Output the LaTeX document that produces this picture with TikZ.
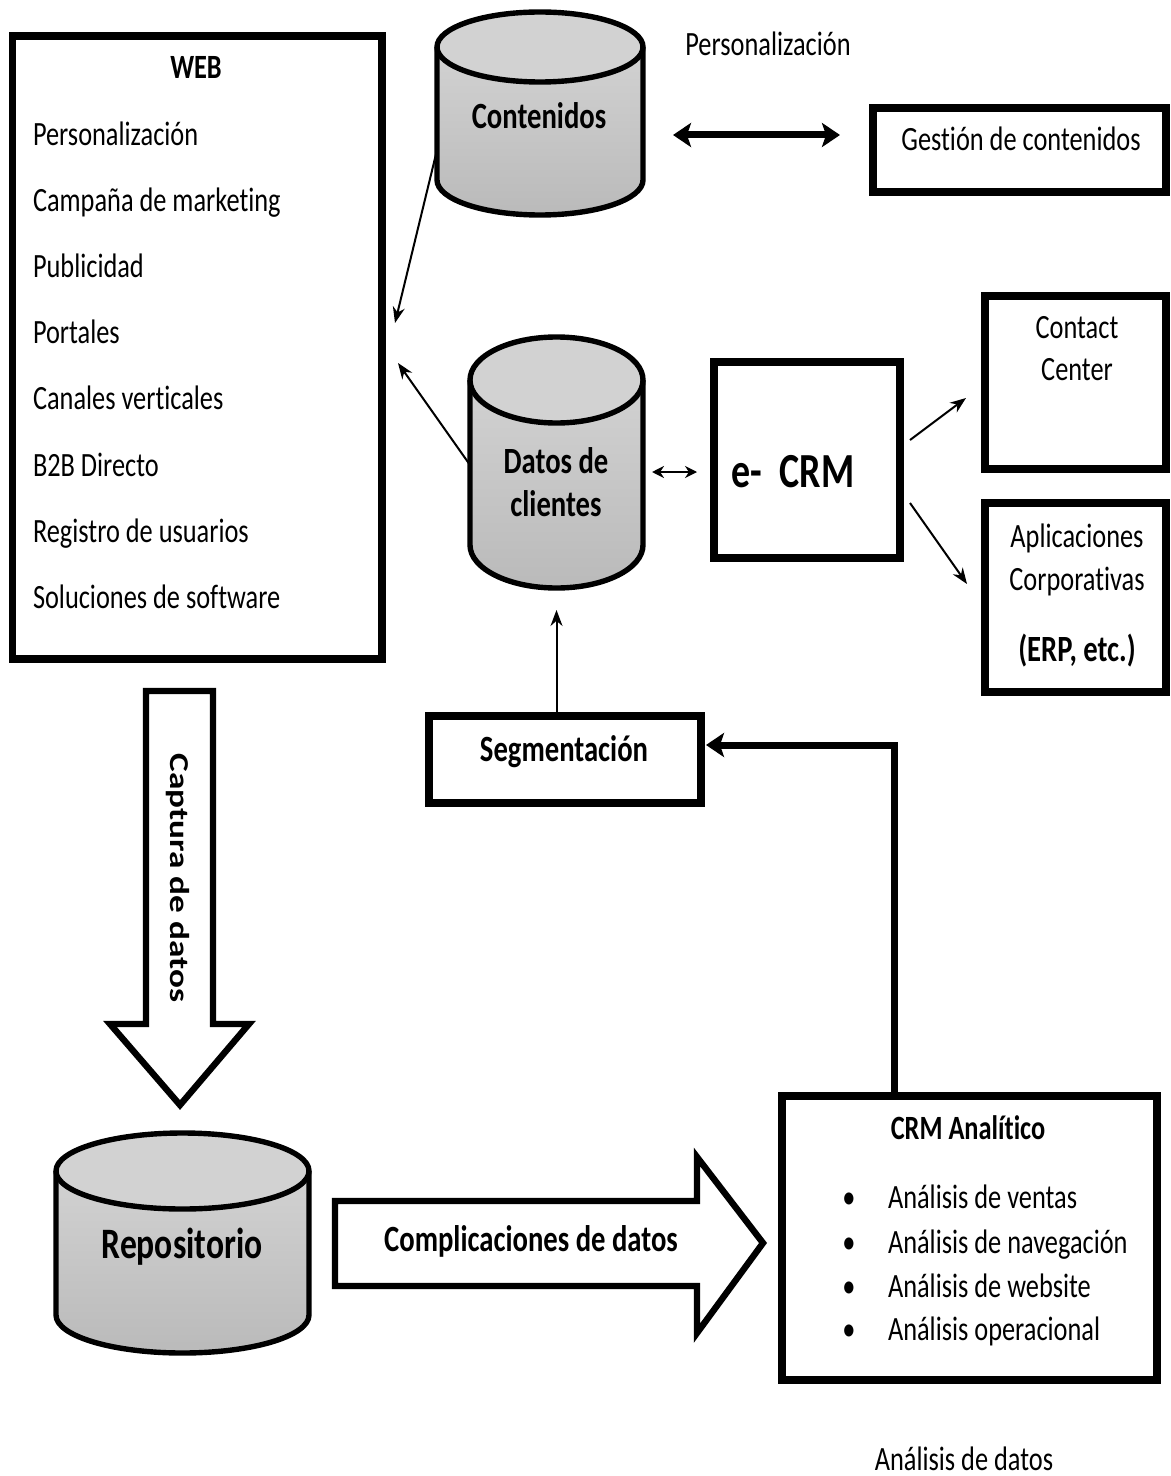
\documentclass[tikz,border=0pt]{standalone}
\usepackage{fontspec}
\setmainfont{Carlito}[FakeStretch=0.775, Ligatures=NoCommon]
\newfontfamily\uprightfam{Carlito}[Ligatures=NoCommon]
\usepackage{graphicx}
\usetikzlibrary{arrows.meta,fit,calc}

\definecolor{drumtop}{RGB}{210,210,210}
\definecolor{drumbot}{RGB}{186,186,186}

\tikzset{
  box/.style={draw, line width=3.6pt, inner sep=0pt, outer sep=0pt},
  hold/.style={inner sep=0pt, outer sep=0pt},
  txt/.style={inner sep=0pt, outer sep=0pt, font=\fontsize{17}{20}\selectfont, text height=10.5pt, text depth=0pt},
  btxt/.style={txt, font=\fontsize{18.5}{22}\selectfont\bfseries, text height=11.5pt},
  bsmall/.style={txt, font=\fontsize{17}{20}\selectfont\bfseries},
  drumline/.style={line width=2.7pt},
  blockarrow/.style={draw, line width=3.2pt, fill=white, line join=miter},
  thinarrow/.style={line width=1pt, -{Stealth[length=8pt,width=6pt]}},
  smallboth/.style={line width=1.3pt, {Stealth[length=6pt,width=6pt]}-{Stealth[length=6pt,width=6pt]}},
  bigboth/.style={line width=3.5pt, {Stealth[length=9pt,width=12pt,inset=2pt]}-{Stealth[length=9pt,width=12pt,inset=2pt]}},
  elbow/.style={line width=3.5pt, -{Stealth[length=9pt,width=12pt,inset=2pt]}}
}

% cylinder: left, top, right, bottom, cap half-height (all in picture units)
\newcommand{\drum}[5]{%
  \pgfmathsetmacro{\drumrx}{(#3-#1)/4}%
  \pgfmathsetmacro{\drumry}{#5/2}%
  \pgfmathsetmacro{\drumcx}{(#1+#3)/2}%
  \path[top color=drumtop, bottom color=drumbot] ({#1},{#2+#5}) -- ({#1},{#4-#5})
     arc[start angle=180, end angle=360, x radius=\drumrx pt, y radius=\drumry pt]
     -- ({#3},{#2+#5}) -- cycle;
  \draw[drumline] ({#1},{#2+#5}) -- ({#1},{#4-#5})
     arc[start angle=180, end angle=360, x radius=\drumrx pt, y radius=\drumry pt]
     -- ({#3},{#2+#5});
  \draw[drumline, fill=drumtop] (\drumcx,{#2+#5}) ellipse[x radius=\drumrx pt, y radius=\drumry pt];
}

\begin{document}
\begin{tikzpicture}[x=0.5pt, y=-0.5pt]
\fill[white] (0,0) rectangle (1171,1476);
\useasboundingbox (0,0) rectangle (1171,1476);

% ---- boxes ----
\node[box, fit={(12.5,36) (382,659)}] (web) {};
\node[box, fit={(873,108) (1166,192)}] (gestion) {};
\node[box, fit={(714,362) (900,558)}] (ecrm) {};
\node[box, fit={(985,296) (1166,469)}] (contact) {};
\node[box, fit={(985,503) (1166,692)}] (aplic) {};
\node[box, fit={(429,716) (701,803)}] (segm) {};
\node[box, fit={(782,1096) (1157,1380)}] (crm) {};

% ---- cylinders ----
\drum{437}{12}{643}{215}{35}
\node[hold, fit={(437,12) (643,215)}] (contenidos) {};
\drum{470}{337}{643}{588}{43}
\node[hold, fit={(470,337) (643,588)}] (datos) {};
\drum{56}{1133}{309}{1353}{38}
\node[hold, fit={(56,1133) (309,1353)}] (repo) {};

% ---- WEB list ----
\node[bsmall] (webtitle) at (196,68) {WEB};
\node[txt, anchor=west] (w1) at (33,135) {Personalización};
\node[txt, anchor=west] (w2) at (33,201) {Campaña de marketing};
\node[txt, anchor=west] (w3) at (33,267) {Publicidad};
\node[txt, anchor=west] (w4) at (33,333) {Portales};
\node[txt, anchor=west] (w5) at (33,399) {Canales verticales};
\node[txt, anchor=west] (w6) at (33,466) {B2B Directo};
\node[txt, anchor=west] (w7) at (33,532) {Registro de usuarios};
\node[txt, anchor=west] (w8) at (33,598) {Soluciones de software};

% ---- labels ----
\node[btxt] (contenidosT) at (539,117) {Contenidos};
\node[txt] (persT) at (768,45) {Personalización};
\node[txt] (gestionT) at (1021,140) {Gestión de contenidos};
\node[btxt] (datosT1) at (556,462) {Datos de};
\node[btxt] (datosT2) at (556,505) {clientes};
\node[txt, font=\fontsize{24.5}{28}\selectfont\bfseries, text height=15.5pt] (ecrmT) at (793,472) {e-\ \ CRM};
\node[txt] (contactT1) at (1077,328) {Contact};
\node[txt] (contactT2) at (1077,370) {Center};
\node[txt] (aplicT1) at (1077,537) {Aplicaciones};
\node[txt] (aplicT2) at (1077,580) {Corporativas};
\node[btxt] (aplicT3) at (1077,650) {(ERP, etc.)};
\node[btxt] (segmT) at (564,750) {Segmentación};
\node[txt, font=\fontsize{21.7}{25}\selectfont\bfseries, text height=13.7pt] (repoT) at (182,1245) {Repositorio};

% ---- CRM analitico ----
\node[bsmall] (crmT) at (968,1129) {CRM Analítico};
\foreach \yy/\tt in {1198/Análisis de ventas, 1243/Análisis de navegación, 1287/Análisis de website, 1330/Análisis operacional}{
  \node[txt] at (849,\yy) {\textbullet};
  \node[txt, anchor=west] at (888,\yy) {\tt};
}
\node[txt] (datosAn) at (964,1460) {Análisis de datos};

% ---- block arrows ----
\draw[blockarrow] (146,691) -- (213,691) -- (213,1024) -- (249,1024) -- (180,1105)
   -- (110,1024) -- (146,1024) -- cycle;
\node[inner sep=0pt, rotate=-90] (captura) at (178,878)
   {\scalebox{1}[0.775]{\uprightfam\bfseries\fontsize{17.6}{20}\selectfont Captura de datos}};
\draw[blockarrow] (335,1201) -- (697,1201) -- (697,1157) -- (763,1243) -- (697,1333)
   -- (697,1286) -- (335,1286) -- cycle;
\node[btxt] (complT) at (531,1240) {Complicaciones de datos};

% ---- connectors ----
\draw[thinarrow] ([yshift=-18.25pt]contenidos.west) -- ([shift={(6.5pt,12.25pt)}]web.east);
\draw[thinarrow] ([yshift=-1.25pt]datos.west) -- ([shift={(8pt,-7.75pt)}]web.east);
\draw[bigboth] ([shift={(15pt,-10.75pt)}]contenidos.east) -- ([shift={(-16.5pt,7.5pt)}]gestion.west);
\draw[smallboth] ([shift={(4.5pt,-4.75pt)}]datos.east) -- ([shift={(-8.5pt,-6pt)}]ecrm.west);
\draw[thinarrow] ([shift={(5pt,10pt)}]ecrm.east) -- ([shift={(-9.5pt,-7.75pt)}]contact.west);
\draw[thinarrow] ([shift={(5pt,-21.5pt)}]ecrm.east) -- ([shift={(-9pt,6.75pt)}]aplic.west);
\draw[thinarrow] (segm.north -| datos.south) -- ([yshift=-11pt]datos.south);
\draw[elbow] ([xshift=-37.75pt]crm.north) |- ([shift={(2.5pt,7.25pt)}]segm.east);
\end{tikzpicture}
\end{document}
